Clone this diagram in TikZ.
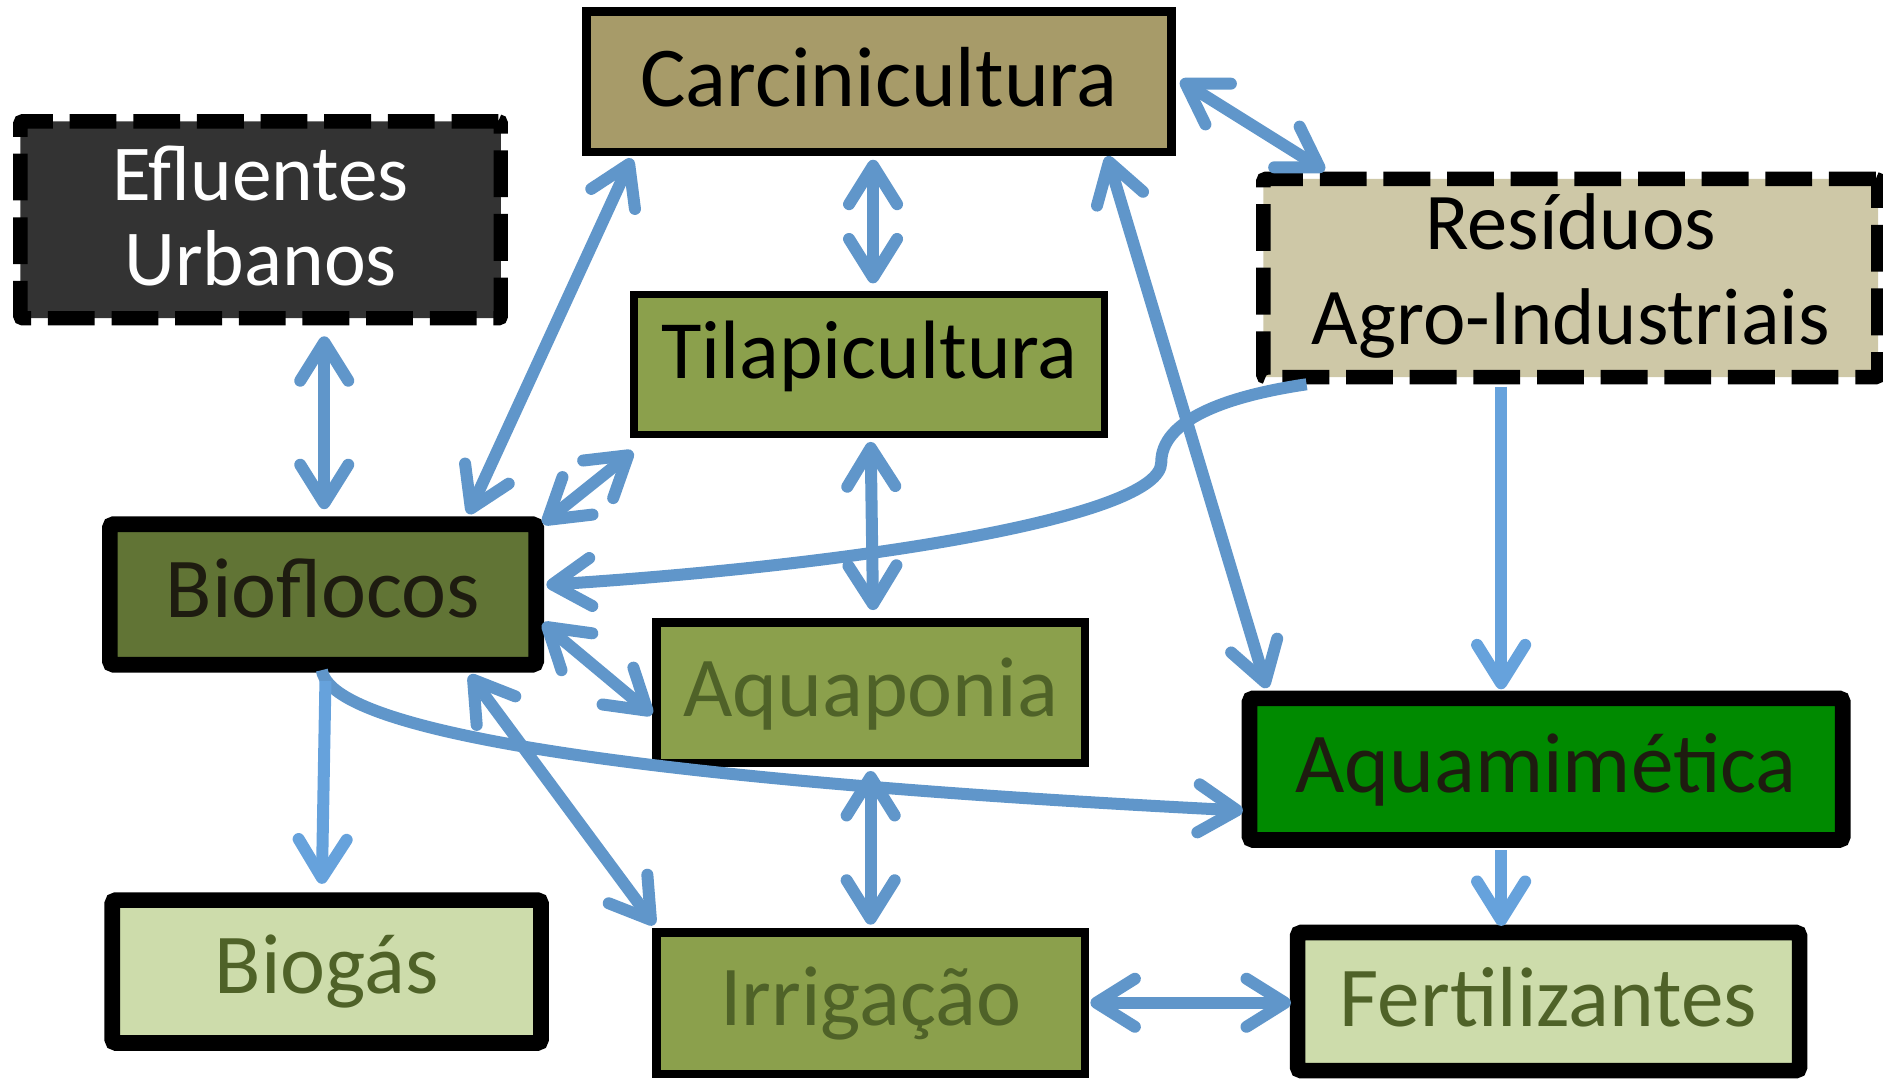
\documentclass[tikz,border=0pt]{standalone}
\usepackage{fontspec}
\setmainfont{Carlito}
\usetikzlibrary{arrows.meta,calc}
\definecolor{carc}{RGB}{167,155,105}
\definecolor{resc}{RGB}{206,200,167}
\definecolor{olivec}{RGB}{139,160,76}
\definecolor{biofc}{RGB}{97,116,53}
\definecolor{aqmc}{RGB}{0,138,0}
\definecolor{lightc}{RGB}{205,220,171}
\definecolor{darkol}{RGB}{79,98,40}
\definecolor{eflc}{RGB}{51,51,51}
\definecolor{nearblk}{RGB}{30,28,16}
\definecolor{arrc}{RGB}{96,150,202}
\definecolor{arrl}{RGB}{102,162,220}
\begin{document}
\begin{tikzpicture}[x=1pt,y=-1pt,
  >={Straight Barb[length=32pt,width=40pt,round]},
  link/.style={draw=arrc, line width=10pt},
  linkl/.style={draw=arrl, line width=10pt},
  boxbase/.style={rectangle, draw=black, inner sep=0pt, font=\fontsize{71pt}{84pt}\selectfont},
  thinbox/.style={boxbase, line width=7pt},
  thickbox/.style={boxbase, line width=13pt, rounded corners=3pt},
  dashbox/.style={boxbase, line width=12pt, dash pattern=on 39pt off 14pt, rounded corners=2pt},
  single/.style={text depth=0pt, text height=#1}
]
\useasboundingbox (0,0) rectangle (1568,898);

% boxes
\node[dashbox, fill=eflc, text=white, minimum width=400pt, minimum height=164pt] (efl) at (217,183)
  {\raisebox{0pt}[0pt][32pt]{\parbox[t]{398pt}{\centering\fontsize{66pt}{71pt}\selectfont Efluentes\\Urbanos}}};
\node[thinbox, fill=carc, minimum width=487pt, minimum height=117pt, single=42pt] (car) at (732,68) {Carcinicultura};
\node[dashbox, fill=resc, minimum width=512pt, minimum height=165pt] (res) at (1308,231.5)
  {\raisebox{0pt}[0pt][47pt]{\parbox[t]{508pt}{\centering\fontsize{67pt}{79pt}\selectfont Resíduos\\Agro-Industriais}}};
\node[boxbase, line width=6pt, fill=olivec, minimum width=392pt, minimum height=117pt, single=23pt,
  font=\fontsize{69pt}{80pt}\selectfont] (til) at (724,303.5) {Tilapicultura};
\node[thickbox, fill=biofc, text=nearblk, minimum width=355pt, minimum height=117pt, single=38pt] (bio) at (269,495) {Bioflocos};
\node[thinbox, fill=olivec, text=darkol, minimum width=357pt, minimum height=117pt, single=40pt] (aqp) at (725,577) {Aquaponia};
\node[thickbox, fill=aqmc, text=nearblk, minimum width=494pt, minimum height=118pt, single=39pt] (aqm) at (1287.5,640.5) {Aquamimética};
\node[thickbox, fill=lightc, text=darkol, minimum width=357pt, minimum height=119pt, single=36pt] (bgs) at (272,809) {Biogás};
\node[thinbox, fill=olivec, text=darkol, minimum width=357pt, minimum height=118pt, single=37pt] (irr) at (725,835.5) {Irrigação};
\node[thickbox, fill=lightc, text=darkol, minimum width=418pt, minimum height=115pt, single=42pt] (fer) at (1289.5,834) {Fertilizantes};

% connectors
\draw[link,<->] ($(efl.south)+(53,9)$) -- ($(bio.north)+(1,-6)$);
\draw[link,<->] ($(bio.north)+(121,-2)$) -- ($(car.south west)+(41,2)$);
\draw[link,<->] ($(bio.north east)+(-1,6)$) -- ($(til.south west)+(2,11)$);
\draw[link,<->] ($(car.south)+(-5,3)$) -- ($(til.north)+(3,-6)$);
\draw[link,<->] ($(til.south)+(1,3)$) -- ($(aqp.north)+(2,-7)$);
\draw[link,<->] ($(car.east)+(4,-1)$) -- ($(res.north west)+(57,-1)$);
\draw[link,<->] ($(car.south east)+(-57,0)$) -- ($(aqm.north west)+(21,-2)$);
\draw[link,->] ($(res.south west)+(42,0)$) .. controls +(-68,10) and +(0,-35) .. ($(res.south west)+(-79,65)$)
  .. controls +(0,45) and +(265,-17) .. ($(bio.east)+(2,-8)$);
\draw[linkl,->] ($(res.south)+(-58,2)$) -- ($(aqm.north)+(-37.5,-1)$);
\draw[link,<->] ($(bio.east)+(-1,24)$) -- ($(aqp.west)+(0,18)$);
\draw[link,->] ($(bio.south)+(-1,-2)$) .. controls +(10,67) and +(-335,-17) .. ($(aqm.west)+(1,34.5)$);
\draw[link,<->] ($(bio.south)+(122,2)$) -- ($(irr.north west)+(2,-3)$);
\draw[link,<->] ($(aqp.south)+(0,3)$) -- ($(irr.north)+(0,-3)$);
\draw[linkl,->] ($(bio.south)+(2,7)$) -- ($(bgs.north)+(-4,-7)$);
\draw[linkl,->] ($(aqm.south)+(-37.5,2)$) -- ($(fer.north)+(-39.5,1)$);
\draw[link,<->] ($(irr.east)+(1,-0.5)$) -- ($(fer.west)+(1,1)$);
\end{tikzpicture}
\end{document}
